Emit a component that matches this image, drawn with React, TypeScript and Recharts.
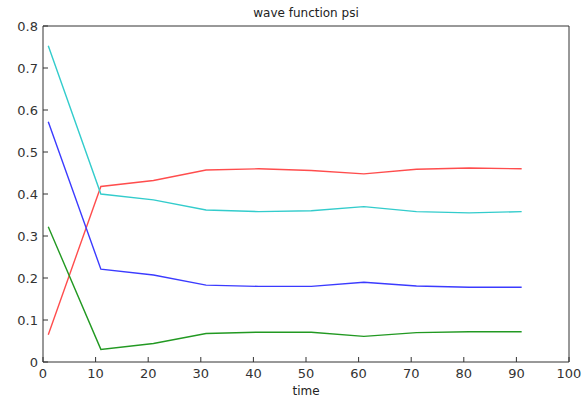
import React from "react";
import { LineChart, Line, XAxis, YAxis } from "recharts";

// sample times and the four psi components
const times = [1, 11, 21, 31, 41, 51, 61, 71, 81, 91];
const psiRed = [0.065, 0.418, 0.432, 0.457, 0.46, 0.456, 0.448, 0.459, 0.462, 0.46];
const psiCyan = [0.753, 0.4, 0.386, 0.362, 0.358, 0.36, 0.37, 0.358, 0.355, 0.358];
const psiBlue = [0.572, 0.221, 0.207, 0.183, 0.18, 0.18, 0.19, 0.181, 0.178, 0.178];
const psiGreen = [0.322, 0.03, 0.044, 0.068, 0.071, 0.071, 0.061, 0.07, 0.072, 0.072];

const xTicks = [0, 10, 20, 30, 40, 50, 60, 70, 80, 90, 100];
const yTicks = [0, 0.1, 0.2, 0.3, 0.4, 0.5, 0.6, 0.7, 0.8];

const data = times.map((t, i) => ({
  t,
  red: psiRed[i],
  cyan: psiCyan[i],
  blue: psiBlue[i],
  green: psiGreen[i],
}));

const axisColor = "#333";
const font = "'DejaVu Sans', sans-serif";
const tickStyle = { fill: "#333", fontSize: 13, fontFamily: font };

const App: React.FC = () => {
  return (
    <div style={{ position: "absolute", left: 0, top: 0, background: "#fff" }}>
      <LineChart
        width={587}
        height={399}
        data={data}
        margin={{ top: 25, right: 17, left: 0, bottom: 0 }}
      >
        <XAxis
          dataKey="t"
          type="number"
          domain={[0, 100]}
          ticks={xTicks}
          height={37}
          stroke={axisColor}
          tickSize={-5}
          tickMargin={12}
          tick={tickStyle}
          label={{ value: "time", position: "insideBottom", offset: 4, fill: "#222", fontSize: 12, fontFamily: font }}
        />
        <XAxis
          xAxisId="top"
          dataKey="t"
          orientation="top"
          type="number"
          domain={[0, 100]}
          ticks={xTicks}
          height={1}
          stroke={axisColor}
          tickSize={-5}
          tick={false}
          allowDataOverflow
          label={{ value: "wave function psi", position: "top", offset: 8, fill: "#222", fontSize: 12, fontFamily: font }}
        />
        <YAxis
          type="number"
          domain={[0, 0.8]}
          ticks={yTicks}
          width={43}
          stroke={axisColor}
          tickSize={-5}
          tickMargin={10}
          tick={tickStyle}
          tickFormatter={(v: number) => String(v)}
        />
        <YAxis
          yAxisId="right"
          orientation="right"
          type="number"
          domain={[0, 0.8]}
          ticks={yTicks}
          width={1}
          stroke={axisColor}
          tickSize={-5}
          tick={false}
          allowDataOverflow
        />
        <Line type="linear" dataKey="red" stroke="#ff4d4d" strokeWidth={1.4} dot={false} isAnimationActive={false} />
        <Line type="linear" dataKey="cyan" stroke="#33cccc" strokeWidth={1.4} dot={false} isAnimationActive={false} />
        <Line type="linear" dataKey="blue" stroke="#3b3bff" strokeWidth={1.4} dot={false} isAnimationActive={false} />
        <Line type="linear" dataKey="green" stroke="#229922" strokeWidth={1.4} dot={false} isAnimationActive={false} />
      </LineChart>
    </div>
  );
};

export default App;
